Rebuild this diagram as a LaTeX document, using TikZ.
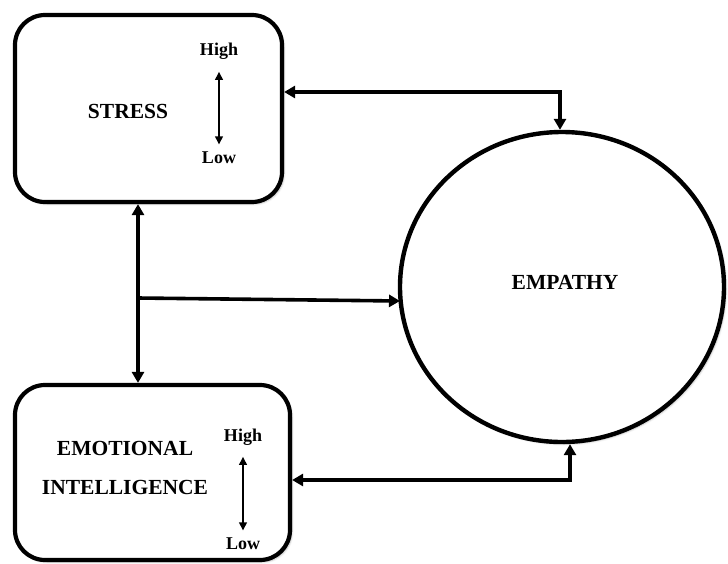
\documentclass[tikz,border=0pt]{standalone}
\usepackage{fontspec}
\setmainfont{Liberation Serif}
\usetikzlibrary{arrows.meta,shapes.geometric,shadows.blur}
\begin{document}
\begin{tikzpicture}[x=1pt,y=-1pt,
  box/.style={draw,line width=4.2pt,rounded corners=30pt,fill=white,
    blur shadow={shadow xshift=2pt,shadow yshift=-2pt,shadow blur steps=6,shadow opacity=25}},
  big/.style={font=\bfseries\fontsize{21.5}{39}\selectfont,align=center},
  hl/.style={font=\bfseries\fontsize{18}{20}\selectfont},
  conn/.style={line width=3.6pt,{Triangle[length=11pt,width=12pt]}-{Triangle[length=11pt,width=12pt]}},
  oneway/.style={line width=3.6pt,-{Triangle[length=11pt,width=12pt]}},
  small/.style={line width=2pt,{Triangle[length=8pt,width=7.5pt]}-{Triangle[length=8pt,width=7.5pt]}}
]
\useasboundingbox (0,0) rectangle (728,563);
% boxes
\node[box,minimum width=267pt,minimum height=187pt] (stress) at (148.5,108.5) {};
\node[box,minimum width=275pt,minimum height=175pt] (ei) at (152.5,472.5) {};
\node[draw,ellipse,line width=4.4pt,fill=white,minimum width=324pt,minimum height=310pt,
  blur shadow={shadow xshift=2pt,shadow yshift=-2pt,shadow blur steps=6,shadow opacity=25}] (emp) at (562,287) {};
% texts
\node[big] (tS) at (128,111) {STRESS};
\node[big] (tE) at (125,468) {EMOTIONAL\\INTELLIGENCE};
\node[big] (tP) at (565,282) {EMPATHY};
\node[hl] (h1) at (219,51) {High};
\node[hl] (l1) at (219,158) {Low};
\node[hl] (h2) at (243,437) {High};
\node[hl] (l2) at (243,544) {Low};
\draw[small,shorten <=9pt,shorten >=4pt] (h1) -- (l1);
\draw[small,shorten <=8pt,shorten >=4pt] (h2) -- (l2);
% connectors
\coordinate (vx) at (138,298);
\coordinate (tp) at (560,92);
\coordinate (bp) at (570,480);
\draw[conn] (vx |- stress.south) -- (vx |- ei.north);
\draw[oneway] (vx) -- (400,301);
\draw[conn] (stress.east |- tp) -- (tp) -- (tp |- emp.north);
\draw[conn] (ei.east |- bp) -- (bp) -- (bp |- emp.south);
\end{tikzpicture}
\end{document}
